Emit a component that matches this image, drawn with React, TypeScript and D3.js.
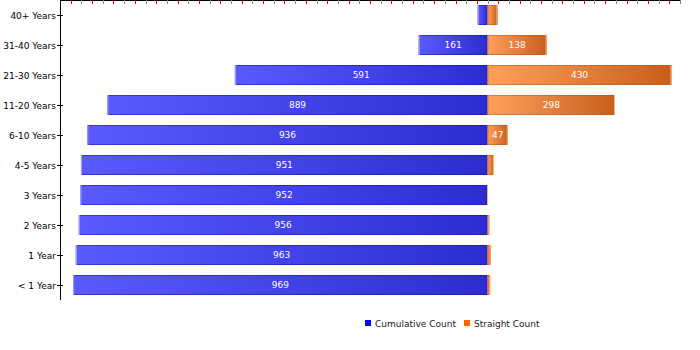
import React, { useRef, useEffect } from "react";
import * as d3 from "d3";

const categories = ["40+ Years", "31-40 Years", "21-30 Years", "11-20 Years", "6-10 Years", "4-5 Years", "3 Years", "2 Years", "1 Year", "< 1 Year"];
const cumulativeCount = [23, 161, 591, 889, 936, 951, 952, 956, 963, 969];
const straightCount = [23, 138, 430, 298, 47, 15, 1, 4, 7, 6];
const seriesNames = ["Cumulative Count", "Straight Count"];

export default function App() {
    const ref = useRef<SVGSVGElement | null>(null);

    useEffect(() => {
        if (!ref.current) return;
        const svg = d3.select(ref.current);
        svg.selectAll("*").remove();

        const width = 700, height = 350;
        const plot = { left: 60, right: 680, top: 0, bottom: 300 };
        const font = "'DejaVu Sans', Verdana, sans-serif";

        svg.attr("width", width).attr("height", height);

        const x = d3.scaleLinear().domain([-1000, 450]).range([plot.left, plot.right]);
        const y = d3.scaleBand<string>().domain(categories).range([plot.top, plot.bottom]).paddingInner(1 / 3).paddingOuter(1 / 6);

        const defs = svg.append("defs");
        const blue = defs.append("linearGradient").attr("id", "gBlue").attr("x1", "0").attr("x2", "1").attr("y1", "0").attr("y2", "0");
        blue.append("stop").attr("offset", "0").attr("stop-color", "#5a5aff");
        blue.append("stop").attr("offset", "1").attr("stop-color", "#2c2cd2");
        const orange = defs.append("linearGradient").attr("id", "gOrange").attr("x1", "0").attr("x2", "1").attr("y1", "0").attr("y2", "0");
        orange.append("stop").attr("offset", "0").attr("stop-color", "#ffa05e");
        orange.append("stop").attr("offset", "1").attr("stop-color", "#c85e1c");

        const rows = categories.map((c, i) => ({ cat: c, cum: cumulativeCount[i], str: straightCount[i] }));
        const bh = y.bandwidth();
        const zero = x(0);

        // top axis with alternating ticks
        const tickVals = d3.range(-1000, 451, 25);
        svg.append("line")
            .attr("x1", plot.left).attr("x2", plot.right)
            .attr("y1", 0.5).attr("y2", 0.5)
            .attr("stroke", "#000");
        svg.selectAll(".top-tick")
            .data(tickVals)
            .enter()
            .append("line")
            .attr("x1", (d) => Math.round(x(d)) + 0.5)
            .attr("x2", (d) => Math.round(x(d)) + 0.5)
            .attr("y1", 0).attr("y2", 4)
            .attr("stroke", (d) => (d % 50 === 0 ? "#888" : "#e00000"));

        // blue bars (cumulative, to the left)
        const bg = svg.selectAll(".blue").data(rows).enter().append("g");
        bg.append("rect")
            .attr("x", (d) => x(-d.cum))
            .attr("y", (d) => y(d.cat)!)
            .attr("width", (d) => zero - x(-d.cum))
            .attr("height", bh)
            .attr("fill", "url(#gBlue)");
        bg.append("rect")
            .attr("x", (d) => x(-d.cum) + 0.5)
            .attr("y", (d) => y(d.cat)! + 0.5)
            .attr("width", (d) => Math.max(0, zero - x(-d.cum) - 1))
            .attr("height", bh - 1)
            .attr("fill", "none")
            .attr("stroke", "rgba(10,10,170,0.45)");
        bg.append("rect")
            .attr("x", (d) => x(-d.cum))
            .attr("y", (d) => y(d.cat)!)
            .attr("width", 1)
            .attr("height", bh)
            .attr("fill", "#a8a8ff");

        // orange bars (straight, to the right)
        const og = svg.selectAll(".orange").data(rows).enter().append("g");
        og.append("rect")
            .attr("x", zero)
            .attr("y", (d) => y(d.cat)!)
            .attr("width", (d) => x(d.str) - zero)
            .attr("height", bh)
            .attr("fill", "url(#gOrange)");
        og.append("rect")
            .attr("x", zero + 0.5)
            .attr("y", (d) => y(d.cat)! + 0.5)
            .attr("width", (d) => Math.max(0, x(d.str) - zero - 1))
            .attr("height", bh - 1)
            .attr("fill", "none")
            .attr("stroke", "rgba(190,80,10,0.45)");
        og.append("rect")
            .attr("x", (d) => x(d.str) - 1)
            .attr("y", (d) => y(d.cat)!)
            .attr("width", 1)
            .attr("height", bh)
            .attr("fill", "#ffb27e");

        // value labels
        svg.selectAll(".blue-label")
            .data(rows.filter((d) => zero - x(-d.cum) > 18))
            .enter()
            .append("text")
            .attr("x", (d) => (x(-d.cum) + zero) / 2)
            .attr("y", (d) => y(d.cat)! + bh / 2 + 3)
            .attr("text-anchor", "middle")
            .style("font-family", font)
            .style("font-size", "9px")
            .attr("fill", "#fff")
            .text((d) => d.cum);
        svg.selectAll(".orange-label")
            .data(rows.filter((d) => x(d.str) - zero > 18))
            .enter()
            .append("text")
            .attr("x", (d) => (x(d.str) + zero) / 2)
            .attr("y", (d) => y(d.cat)! + bh / 2 + 3)
            .attr("text-anchor", "middle")
            .style("font-family", font)
            .style("font-size", "9px")
            .attr("fill", "#fff")
            .text((d) => d.str);

        // left axis
        svg.append("line")
            .attr("x1", plot.left + 0.5).attr("x2", plot.left + 0.5)
            .attr("y1", 0).attr("y2", plot.bottom)
            .attr("stroke", "#000");
        svg.selectAll(".y-tick")
            .data(categories)
            .enter()
            .append("line")
            .attr("x1", plot.left - 3).attr("x2", plot.left + 3)
            .attr("y1", (d) => Math.round(y(d)! + bh / 2) + 0.5)
            .attr("y2", (d) => Math.round(y(d)! + bh / 2) + 0.5)
            .attr("stroke", "#000");
        svg.selectAll(".y-label")
            .data(categories)
            .enter()
            .append("text")
            .attr("x", plot.left - 4)
            .attr("y", (d) => y(d)! + bh / 2 + 3.5)
            .attr("text-anchor", "end")
            .style("font-family", font)
            .style("font-size", "9px")
            .attr("fill", "#000")
            .text((d) => d);

        // legend
        const legendX = [365, 464];
        const legendColors = ["#0000ff", "#ff6600"];
        const lg = svg.selectAll(".legend").data(seriesNames).enter().append("g");
        lg.append("rect")
            .attr("x", (_d, i) => legendX[i])
            .attr("y", 320)
            .attr("width", 6).attr("height", 6)
            .attr("fill", (_d, i) => legendColors[i]);
        lg.append("text")
            .attr("x", (_d, i) => legendX[i] + 10)
            .attr("y", 327)
            .style("font-family", font)
            .style("font-size", "9px")
            .attr("fill", "#222")
            .text((d) => d);
    }, []);

    return (
        <div>
            <svg ref={ref} style={{ position: "absolute", left: 0, top: 0 }} />
        </div>
    );
}
